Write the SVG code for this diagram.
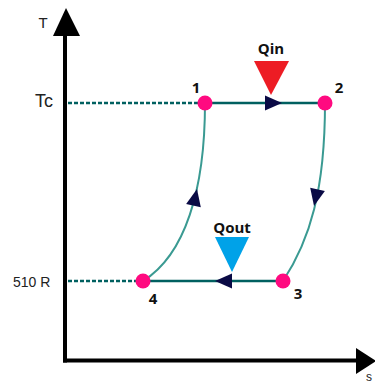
<svg xmlns="http://www.w3.org/2000/svg" width="375" height="384" viewBox="0 0 375 384">
<style>
.axis{stroke:#000;stroke-width:4;fill:none}
.dash{stroke:#006060;stroke-width:2.5;stroke-dasharray:4 2;fill:none}
.proc{stroke:#006060;stroke-width:2.5;fill:none}
.curve{stroke:#3a9a92;stroke-width:2;fill:none}
.ah{fill:#0a0a45}
.pt{fill:#ff0a80}
.lbl{font-family:"Open Sans","Liberation Sans",sans-serif;font-weight:bold;font-size:15px;fill:#111}
.ax{font-family:"Liberation Sans","Open Sans",sans-serif;fill:#222}
</style>
<defs>
<path id="arrowhead" d="M0,0 L-17,-7.5 L-17,7.5 Z"/>
</defs>
<g id="axes">
<line class="axis" x1="65" y1="30" x2="65" y2="362.5"/>
<line class="axis" x1="63" y1="360.5" x2="358" y2="360.5"/>
<polygon fill="#000" points="66,8 53,36 80,36"/>
<polygon fill="#000" points="376,361 356,348 356,374"/>
<text class="ax" x="43" y="28" font-size="15" text-anchor="middle">T</text>
<text class="ax" x="35" y="107" font-size="18">Tc</text>
<text class="ax" x="13" y="287" font-size="14">510 R</text>
<text class="ax" x="366" y="381" font-size="12">s</text>
</g>
<g id="connectors">
<line class="dash" x1="68" y1="103" x2="198" y2="103"/>
<line class="dash" x1="68" y1="281" x2="136" y2="281"/>
<line id="edge-1-2" class="proc" x1="205" y1="103" x2="325" y2="103"/>
<path id="edge-2-3" class="curve" d="M325,103 C325,190 310,240 283,281"/>
<line id="edge-3-4" class="proc" x1="283" y1="281" x2="143" y2="281"/>
<path id="edge-4-1" class="curve" d="M143,281 C185,255 205,190 205,103"/>
<use href="#arrowhead" class="ah" transform="translate(282,103)"/>
<use href="#arrowhead" class="ah" transform="translate(314,206) rotate(102)"/>
<use href="#arrowhead" class="ah" transform="translate(215,281) rotate(180)"/>
<use href="#arrowhead" class="ah" transform="translate(197,189) rotate(-78)"/>
</g>
<g id="qin">
<polygon fill="#ed1c24" points="254,61 289,61 271,95"/>
<text class="lbl" x="271" y="54" font-size="13" text-anchor="middle">Qin</text>
</g>
<g id="qout">
<polygon fill="#00a2e8" points="215,237 249,237 232,272"/>
<text class="lbl" x="232" y="233" font-size="13" text-anchor="middle">Qout</text>
</g>
<g id="node-1">
<circle class="pt" cx="205" cy="103" r="7.5"/>
<text class="lbl" x="196" y="93" text-anchor="middle">1</text>
</g>
<g id="node-2">
<circle class="pt" cx="325" cy="103" r="7.5"/>
<text class="lbl" x="339" y="93" text-anchor="middle">2</text>
</g>
<g id="node-3">
<circle class="pt" cx="283" cy="281" r="7.5"/>
<text class="lbl" x="298" y="299" text-anchor="middle">3</text>
</g>
<g id="node-4">
<circle class="pt" cx="143" cy="281" r="7.5"/>
<text class="lbl" x="153" y="304" text-anchor="middle">4</text>
</g>
</svg>
